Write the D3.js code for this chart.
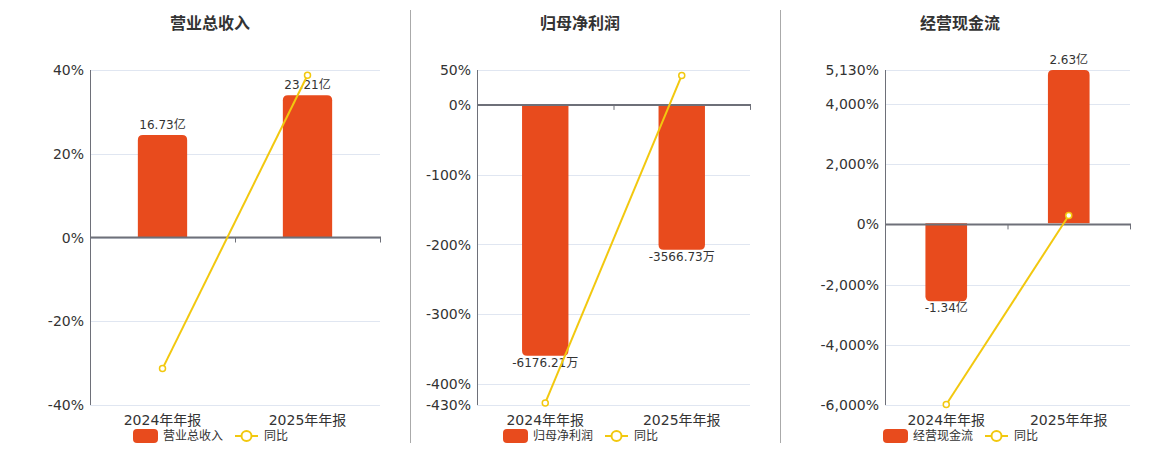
<!DOCTYPE html>
<html>
<head>
<meta charset="utf-8">
<script src="https://cdn.jsdelivr.net/npm/d3@7"></script>
<style>
  body { margin: 0; background: #fff; }
  svg text { font-family: "DejaVu Sans", "Noto Sans CJK SC", sans-serif; }
</style>
</head>
<body>
<div id="chart"></div>
<script>
const width = 1160;
const height = 450;

// dati
const categories = ["2024年年报", "2025年年报"];
const titles = ["营业总收入", "归母净利润", "经营现金流"];
const barValues = [[16.73, 23.21], [-6176.21, -3566.73], [-1.34, 2.63]];
const barLabels = [["16.73亿", "23.21亿"], ["-6176.21万", "-3566.73万"], ["-1.34亿", "2.63亿"]];
const yoyValues = [[-31.3, 38.73], [-427, 42.25], [-5985, 296.3]];
const pctTicks = [[-40, -20, 0, 20, 40], [-430, -400, -300, -200, -100, 0, 50], [-6000, -4000, -2000, 0, 2000, 4000, 5130]];
const pctDomains = [[-40, 40], [-430, 50], [-6000, 5130]];
const barDomains = [[-27.2, 27.3], [-7390, 862], [-3.12, 2.63]];

// layout dei tre pannelli
const panels = [
  { left: 90, right: 380, center: 210 },
  { left: 477, right: 750, center: 580 },
  { left: 885, right: 1130, center: 960 }
];
const plotTop = 70, plotBottom = 405;

const barColor = "#E84B1D";
const lineColor = "#F2C80F";
const fmt = d3.format(",");

const svg = d3.select("#chart").append("svg")
  .attr("width", width)
  .attr("height", height);

// separatori verticali
[410, 780].forEach(x => {
  svg.append("line")
    .attr("x1", x + 0.5).attr("x2", x + 0.5)
    .attr("y1", 10).attr("y2", 443)
    .attr("stroke", "#aaa").attr("stroke-width", 1);
});

// barra con angoli arrotondati solo sul lato esterno
function barPath(x, w, y0, y1, r) {
  const h = Math.abs(y1 - y0);
  r = Math.min(r, h, w / 2);
  if (y1 < y0) {
    return `M${x},${y0}V${y1 + r}Q${x},${y1} ${x + r},${y1}H${x + w - r}Q${x + w},${y1} ${x + w},${y1 + r}V${y0}Z`;
  }
  return `M${x},${y0}V${y1 - r}Q${x},${y1} ${x + r},${y1}H${x + w - r}Q${x + w},${y1} ${x + w},${y1 - r}V${y0}Z`;
}

panels.forEach((p, i) => {
  const g = svg.append("g");

  const x = d3.scaleBand().domain(categories).range([p.left, p.right]);
  const y = d3.scaleLinear().domain(pctDomains[i]).range([plotBottom, plotTop]);
  const yBar = d3.scaleLinear().domain(barDomains[i]).range([plotBottom, plotTop]);
  const zero = y(0);

  // titolo
  g.append("text")
    .attr("x", p.center).attr("y", 29)
    .attr("text-anchor", "middle")
    .attr("font-size", 16).attr("font-weight", "bold")
    .attr("fill", "#333")
    .text(titles[i]);

  // griglia
  g.selectAll(".grid").data(pctTicks[i]).join("line")
    .attr("x1", p.left).attr("x2", p.right)
    .attr("y1", d => Math.round(y(d)) + 0.5).attr("y2", d => Math.round(y(d)) + 0.5)
    .attr("stroke", "#E0E6F1").attr("stroke-width", 1);

  // asse y
  g.append("line")
    .attr("x1", p.left + 0.5).attr("x2", p.left + 0.5)
    .attr("y1", plotTop).attr("y2", plotBottom)
    .attr("stroke", "#6E7079").attr("stroke-width", 1);
  g.selectAll(".ylabel").data(pctTicks[i]).join("text")
    .attr("x", p.left - 6).attr("y", d => y(d))
    .attr("dy", "0.36em")
    .attr("text-anchor", "end")
    .attr("font-size", 14).attr("fill", "#333")
    .text(d => fmt(d).replace("\u2212", "-") + "%");

  // barre
  const bw = x.bandwidth() * 0.34;
  g.selectAll(".bar").data(barValues[i]).join("path")
    .attr("d", (d, j) => barPath(x(categories[j]) + (x.bandwidth() - bw) / 2, bw, yBar(0), yBar(d), 5))
    .attr("fill", barColor);

  // asse x sullo zero
  g.append("line")
    .attr("x1", p.left).attr("x2", p.right + 1)
    .attr("y1", zero).attr("y2", zero)
    .attr("stroke", "#6E7079").attr("stroke-width", 2);
  g.selectAll(".xtick").data(categories).join("line")
    .attr("x1", d => x(d) + x.bandwidth() + 0.5).attr("x2", d => x(d) + x.bandwidth() + 0.5)
    .attr("y1", zero).attr("y2", zero + 5)
    .attr("stroke", "#6E7079");
  g.selectAll(".xlabel").data(categories).join("text")
    .attr("x", d => x(d) + x.bandwidth() / 2).attr("y", plotBottom + 20)
    .attr("text-anchor", "middle")
    .attr("font-size", 14).attr("fill", "#333")
    .text(d => d);

  // etichette delle barre
  g.selectAll(".blabel").data(barValues[i]).join("text")
    .attr("x", (d, j) => x(categories[j]) + x.bandwidth() / 2)
    .attr("y", d => d >= 0 ? yBar(d) - 6 : yBar(d) + 11)
    .attr("text-anchor", "middle")
    .attr("font-size", 12).attr("fill", "#333")
    .text((d, j) => barLabels[i][j]);

  // linea del 同比
  const line = d3.line()
    .x((d, j) => x(categories[j]) + x.bandwidth() / 2)
    .y(d => y(d));
  g.append("path")
    .datum(yoyValues[i])
    .attr("d", line)
    .attr("fill", "none")
    .attr("stroke", lineColor).attr("stroke-width", 2);
  g.selectAll(".pt").data(yoyValues[i]).join("circle")
    .attr("cx", (d, j) => x(categories[j]) + x.bandwidth() / 2)
    .attr("cy", d => y(d))
    .attr("r", 3)
    .attr("fill", "#fff")
    .attr("stroke", lineColor).attr("stroke-width", 1.5);

  // legenda
  const lg = g.append("g").attr("transform", `translate(${p.center - 77},436)`);
  lg.append("rect")
    .attr("x", 0).attr("y", -7).attr("width", 25).attr("height", 14)
    .attr("rx", 4).attr("fill", barColor);
  lg.append("text")
    .attr("x", 30).attr("y", 0).attr("dy", "0.36em")
    .attr("font-size", 12).attr("fill", "#333")
    .text(titles[i]);
  lg.append("line")
    .attr("x1", 102).attr("x2", 125).attr("y1", 0).attr("y2", 0)
    .attr("stroke", lineColor).attr("stroke-width", 2);
  lg.append("circle")
    .attr("cx", 113.5).attr("cy", 0).attr("r", 5)
    .attr("fill", "#fff").attr("stroke", lineColor).attr("stroke-width", 2);
  lg.append("text")
    .attr("x", 131).attr("y", 0).attr("dy", "0.36em")
    .attr("font-size", 12).attr("fill", "#333")
    .text("同比");
});
</script>
</body>
</html>
